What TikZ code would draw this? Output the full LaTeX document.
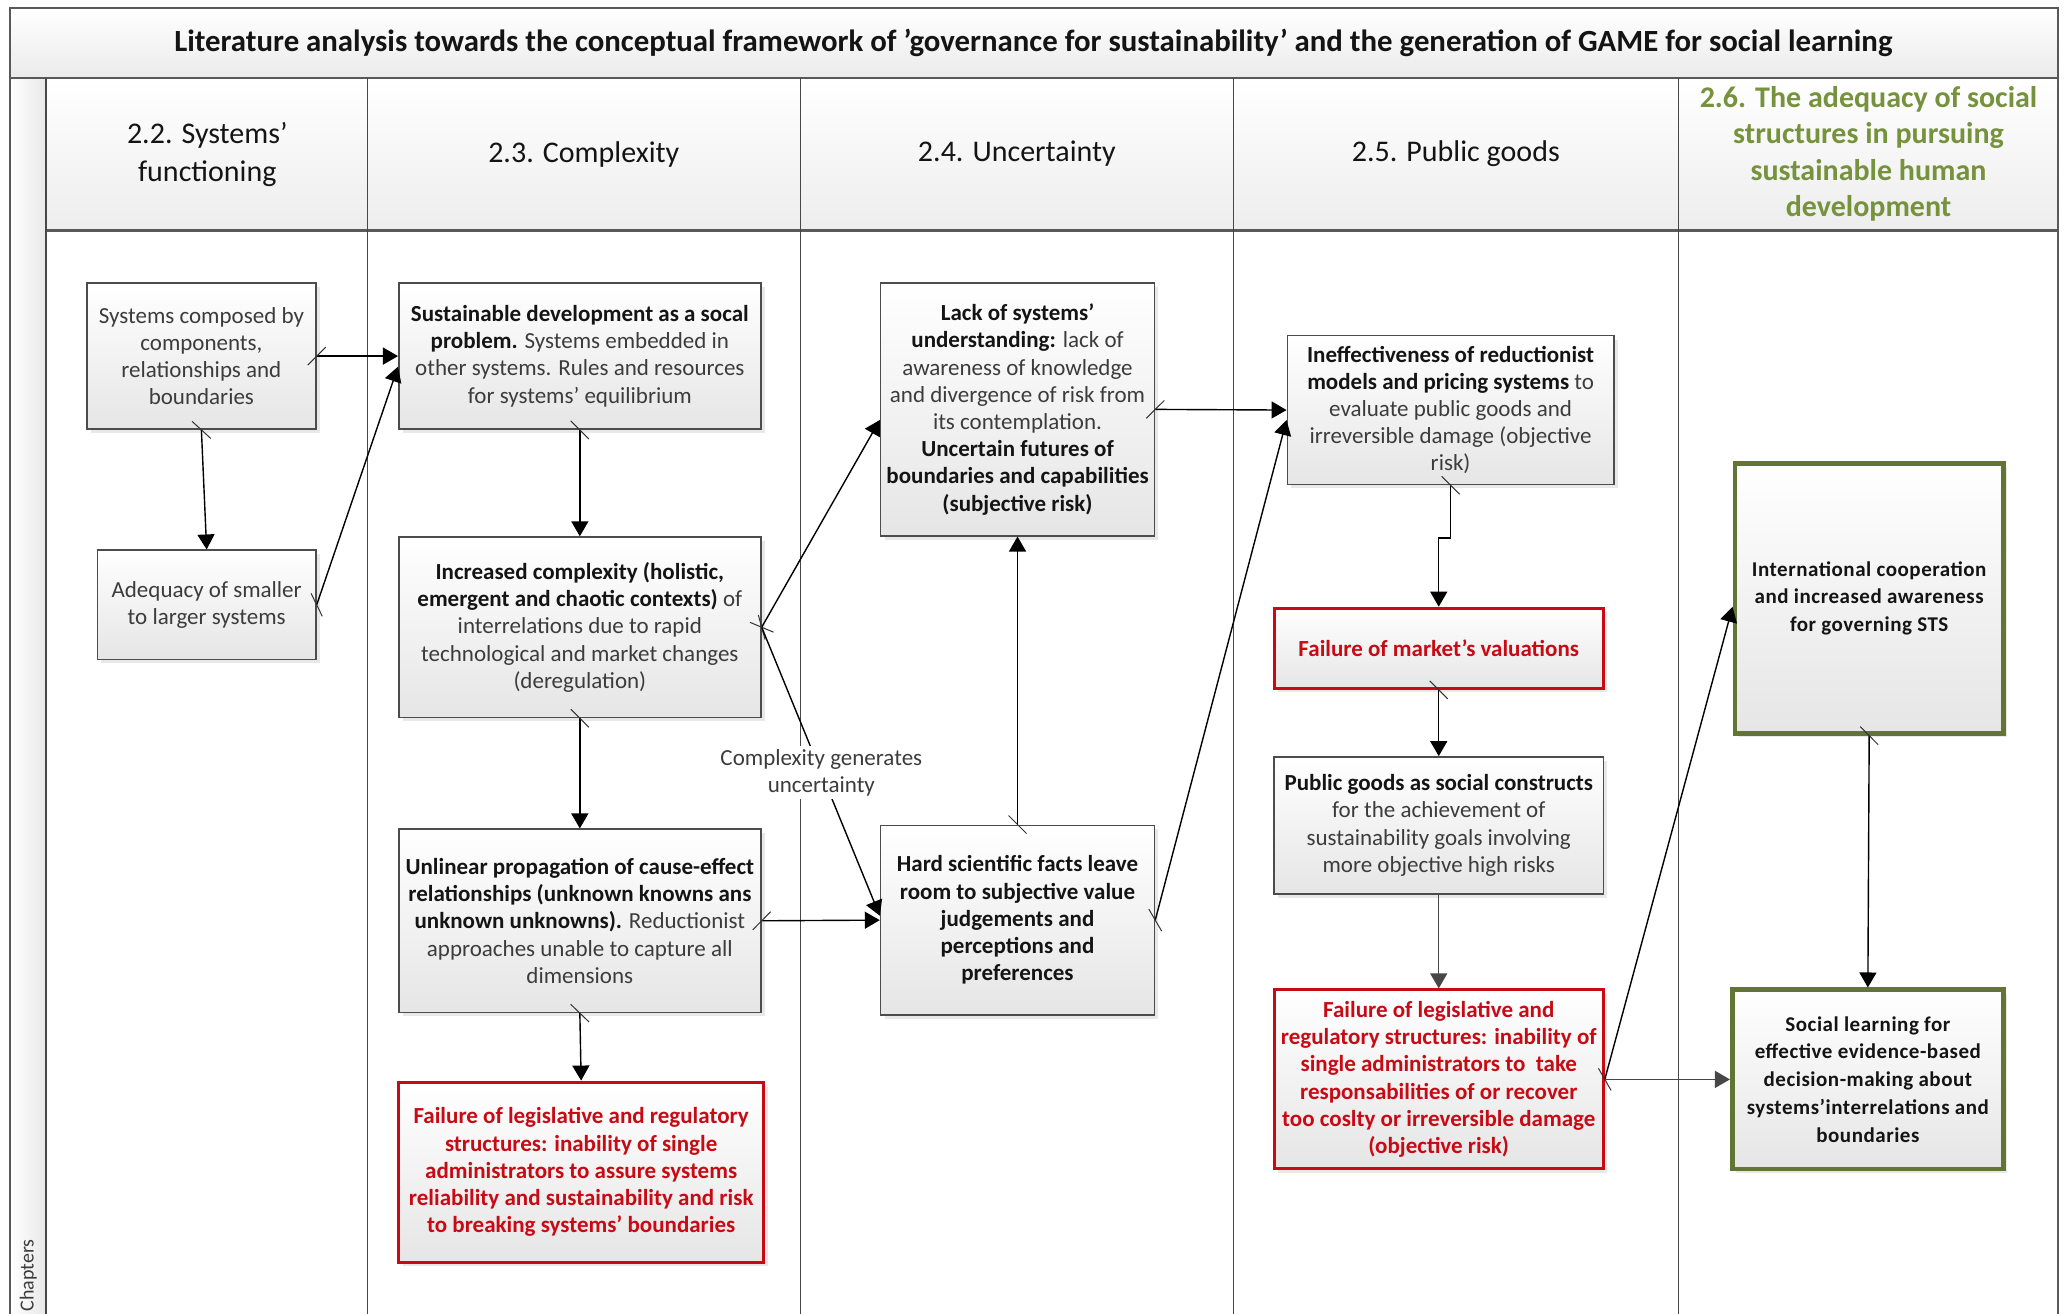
\documentclass[tikz,border=0pt]{standalone}
\usepackage{fontspec}
\setmainfont{Carlito}
\newfontfamily\wideface[LetterSpace=2.5]{Carlito}
\usetikzlibrary{arrows.meta,shadows,decorations.markings}

\definecolor{failred}{RGB}{200,10,20}
\definecolor{oliveline}{RGB}{98,117,52}
\definecolor{olivetext}{RGB}{118,146,60}
\definecolor{bodytext}{RGB}{60,60,60}
\definecolor{darktext}{RGB}{20,20,20}

\newcommand{\hb}[1]{\textbf{\color{darktext}#1}}

\begin{document}
\begin{tikzpicture}[x=0.658pt, y=-0.658pt,
  frameline/.style={draw=black!65, line width=0.9pt},
  laneline/.style={draw=black!72, line width=0.65pt},
  headtext/.style={font=\fontsize{15}{19}\selectfont, text=darktext, align=center},
  box/.style={draw=black!70, line width=0.8pt, top color=white, bottom color=black!10,
    drop shadow={shadow xshift=2pt, shadow yshift=-2pt, fill=black!15, opacity=0.6},
    align=center, inner sep=0pt, text=bodytext,
    font=\fontsize{11.5}{13.6}\selectfont},
  failbox/.style={box, draw=failred, line width=1.5pt, text=failred,
    font=\fontsize{11.5}{13.6}\selectfont\bfseries},
  goalbox/.style={box, draw=oliveline, line width=2.4pt, text=darktext,
    font=\fontsize{10.5}{13.9}\selectfont\wideface\bfseries},
  glue/.style={postaction={decorate, decoration={markings,
    mark=at position 0 with {\draw[-, line width=0.5pt, black!80] (-4.5pt,-4.5pt) -- (4.5pt,4.5pt);}}}},
  conn/.style={draw=black, line width=0.7pt, -{Triangle[length=7.5pt, width=8.5pt]}, glue},
  softconn/.style={draw=black!72, line width=0.7pt, -{Triangle[length=7.5pt, width=8.5pt]}},
  note/.style={fill=white, inner sep=1.5pt, align=center, text=bodytext,
    font=\fontsize{11.5}{13.6}\selectfont}
]
\useasboundingbox (0,0) rectangle (1568,998);
\clip (0,0) rectangle (1568,998);

% title bar, header row and the side strip
\shade[top color=white, bottom color=black!8] (7.6,6.3) rectangle (1563.6,59.5);
\shade[top color=white, bottom color=black!7] (35,59.5) rectangle (1563.6,175);
\shade[left color=white, right color=black!9] (7.6,59.5) rectangle (35,1010);

% frame and swimlane separators
\draw[frameline] (7.6,1010) -- (7.6,6.3) -- (1563.6,6.3) -- (1563.6,1010);
\draw[frameline] (7.6,59.5) -- (1563.6,59.5);
\draw[frameline, line width=1.3pt] (35,175) -- (1563.6,175);
\foreach \xx in {35,279,608,937,1275}
  \draw[laneline] (\xx,59.5) -- (\xx,1010);

% titles
\node[font=\fontsize{15.4}{18}\selectfont\bfseries, text=darktext] (title) at (785,32.5)
  {Literature analysis towards the conceptual framework of ’governance for sustainability’ and the generation of GAME for social learning};
\node[headtext] (h22) at (157.5,117) {2.2. Systems’\\functioning};
\node[headtext] (h23) at (443.5,117) {2.3. Complexity};
\node[headtext] (h24) at (772.5,117) {2.4. Uncertainty};
\node[headtext] (h25) at (1106,117) {2.5. Public goods};
\node[headtext, font=\fontsize{15}{18.2}\selectfont\bfseries, text=olivetext] (h26) at (1419.5,117)
  {2.6. The adequacy of social\\structures in pursuing\\sustainable human\\development};
\node[rotate=90, font=\fontsize{10}{12}\selectfont, text=bodytext] (chap) at (21.5,969) {Chapters};

% 2.2 systems' functioning
\node[box, minimum width=114.5pt, minimum height=73pt] (A) at (153,270.5)
  {Systems composed by\\components,\\relationships and\\boundaries};
\node[box, minimum width=109.2pt, minimum height=54.6pt] (B) at (157,459.5)
  {Adequacy of smaller\\to larger systems};

% 2.3 complexity
\node[box, minimum width=181pt, minimum height=73pt] (C) at (440.5,270.5)
  {\hb{Sustainable development as a socal}\\\hb{problem.} Systems embedded in\\other systems. Rules and resources\\for systems’ equilibrium};
\node[box, minimum width=181pt, minimum height=90.1pt] (D) at (440.5,476.5)
  {\hb{Increased complexity (holistic,}\\\hb{emergent and chaotic contexts)} of\\interrelations due to rapid\\technological and market changes\\(deregulation)};
\node[box, minimum width=181pt, minimum height=91.5pt] (E) at (440.5,699.5)
  {\hb{Unlinear propagation of cause-effect}\\\hb{relationships (unknown knowns ans}\\\hb{unknown unknowns).} Reductionist\\approaches unable to capture all\\dimensions};
\node[failbox, minimum width=182.3pt, minimum height=90.1pt] (F) at (441.5,890.5)
  {Failure of legislative and regulatory\\structures: inability of single\\administrators to assure systems\\reliability and sustainability and risk\\to breaking systems’ boundaries};

% 2.4 uncertainty
\node[box, minimum width=136.9pt, minimum height=126.3pt] (G) at (773,311)
  {\hb{Lack of systems’}\\\hb{understanding:} lack of\\awareness of knowledge\\and divergence of risk from\\its contemplation.\\\hb{Uncertain futures of}\\\hb{boundaries and capabilities}\\\hb{(subjective risk)}};
\node[box, minimum width=136.9pt, minimum height=94.8pt] (H) at (773,699)
  {\hb{Hard scientific facts leave}\\\hb{room to subjective value}\\\hb{judgements and}\\\hb{perceptions and}\\\hb{preferences}};

% 2.5 public goods
\node[box, minimum width=163.2pt, minimum height=74.4pt] (I) at (1102,311.5)
  {\hb{Ineffectiveness of reductionist}\\\hb{models and pricing systems} to\\evaluate public goods and\\irreversible damage (objective\\risk)};
\node[failbox, minimum width=164.5pt, minimum height=40.1pt] (J) at (1093,492.5)
  {Failure of market’s valuations};
\node[box, minimum width=164.5pt, minimum height=68.4pt] (K) at (1093,627)
  {\hb{Public goods as social constructs}\\for the achievement of\\sustainability goals involving\\more objective high risks};
\node[failbox, minimum width=164.5pt, minimum height=89.5pt] (L) at (1093,820)
  {Failure of legislative and\\regulatory structures: inability of\\single administrators to\ \ take\\responsabilities of or recover\\too coslty or irreversible damage\\(objective risk)};

% 2.6 social structures
\node[goalbox, minimum width=134.2pt, minimum height=134.9pt] (M) at (1420,454.5)
  {International cooperation\\and increased awareness\\for governing STS};
\node[goalbox, minimum width=135.5pt, minimum height=89.5pt] (N) at (1419,820)
  {Social learning for\\effective evidence-based\\decision-making about\\systems’interrelations and\\boundaries};

% connectors
\draw[conn] (A.east) -- (C.west);
\draw[conn] (A.south) -- (B.north);
\draw[conn] (B.east) -- ([yshift=-5.3pt]C.west);
\draw[conn] (C.south) -- (D.north);
\draw[conn] (D.south) -- (E.north);
\draw[conn] (E.south) -- (F.north);
\draw[conn] (D.east) -- ([yshift=-5.3pt]G.west);
\draw[conn] (D.east) -- node[note, pos=0.505] (lbl) {Complexity generates\\uncertainty} ([yshift=2.2pt]H.west);
\draw[conn] (E.east) -- (H.west);
\draw[conn] (H.north) -- (G.south);
\draw[conn] (G.east) -- (I.west);
\draw[conn] (H.east) -- ([yshift=-5pt]I.west);
\draw[conn] (I.south) -- ++(0,40) -| (J.north);
\draw[conn] (J.south) -- (K.north);
\draw[softconn] (K.south) -- (L.north);
\draw[conn] (L.east) -- ([yshift=-4.3pt]M.west);
\draw[softconn] (L.east) -- (N.west);
\draw[conn] (M.south) -- (N.north);
\end{tikzpicture}
\end{document}
